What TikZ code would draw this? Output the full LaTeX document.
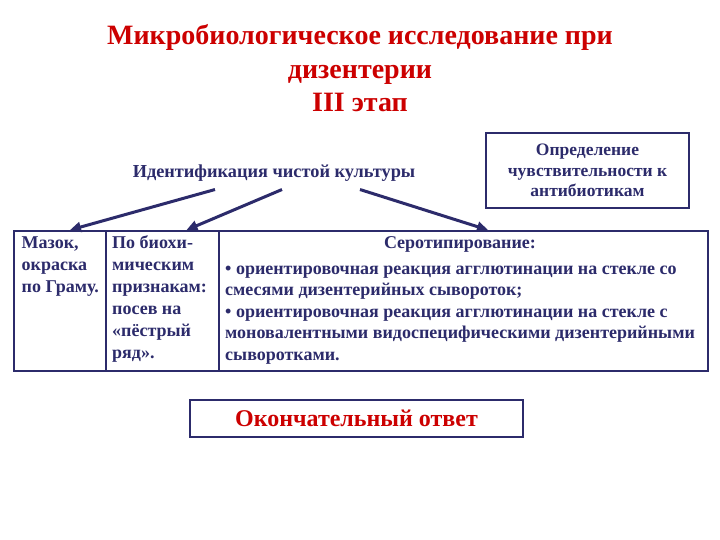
\documentclass[tikz,border=0pt]{standalone}
\usepackage{fontspec}
\setmainfont{Liberation Serif}
\usetikzlibrary{arrows.meta}
\definecolor{navy}{HTML}{2C2B6B}
\definecolor{tred}{HTML}{CC0000}
\newcommand{\mytopstrut}{\rule{0pt}{13pt}}
\tikzset{
  titletext/.style={text=tred, font=\fontsize{28}{33.5}\selectfont\bfseries, align=center, inner sep=0pt},
  lbl/.style={text=navy, font=\fontsize{17.5}{20.7}\selectfont\bfseries, align=center, inner sep=0pt},
  framebox/.style={draw=navy, line width=2pt, inner sep=0pt},
  celltext/.style={text=navy, font=\fontsize{18}{22}\selectfont\bfseries, align=left, inner sep=0pt, anchor=north west},
  arr/.style={draw=navy, line width=3pt, -{Triangle[length=11pt,width=10pt]}}
}
\begin{document}
\begin{tikzpicture}[x=1pt,y=-1pt]
\useasboundingbox[fill=white] (0,0) rectangle (720,540);
\node[titletext] (title) at (360,68.5) {Микробиологическое исследование при\\дизентерии\\III этап};
\node[lbl, font=\fontsize{18.3}{22}\selectfont\bfseries] (ident) at (274,173) {Идентификация чистой культуры};
\node[framebox, minimum width=203pt, minimum height=75pt, lbl] (sens) at (587.5,170.5) {Определение\\чувствительности к\\антибиотикам};
% table cells
\node[framebox, minimum width=92pt, minimum height=140pt, anchor=north west] (c1) at (13,230) {};
\node[framebox, minimum width=113pt, minimum height=140pt, anchor=north west] (c2) at (105,230) {};
\node[framebox, minimum width=489pt, minimum height=140pt, anchor=north west] (c3) at (218,230) {};
\node[celltext] (t1) at (21.5,235.5) {\mytopstrut Мазок,\\окраска\\по Граму.};
\node[celltext] (t2) at (112,235.5) {\mytopstrut По биохи-\\мическим\\признакам:\\посев на\\«пёстрый\\ряд».};
\node[text=navy, font=\fontsize{18}{22}\selectfont\bfseries, inner sep=0pt] (t3h) at (460,244) {Серотипирование:};
\node[celltext, font=\fontsize{18}{21.5}\selectfont\bfseries] (t3) at (225,261) {\mytopstrut • ориентировочная реакция агглютинации на стекле со\\смесями дизентерийных сывороток;\\• ориентировочная реакция агглютинации на стекле с\\моновалентными видоспецифическими дизентерийными\\сыворотками.};
\node[framebox, minimum width=333pt, minimum height=37pt, text=tred, font=\fontsize{24}{28}\selectfont\bfseries] (final) at (356.5,418.5) {Окончательный ответ};
% arrows
\draw[arr] ([xshift=-59pt,yshift=-8pt]ident.south) -- ([xshift=10pt]c1.north);
\draw[arr] ([xshift=8pt,yshift=-8pt]ident.south) -- ([xshift=24pt]c2.north);
\draw[arr] ([xshift=86pt,yshift=-8pt]ident.south) -- ([xshift=24.5pt]c3.north);
\end{tikzpicture}
\end{document}
